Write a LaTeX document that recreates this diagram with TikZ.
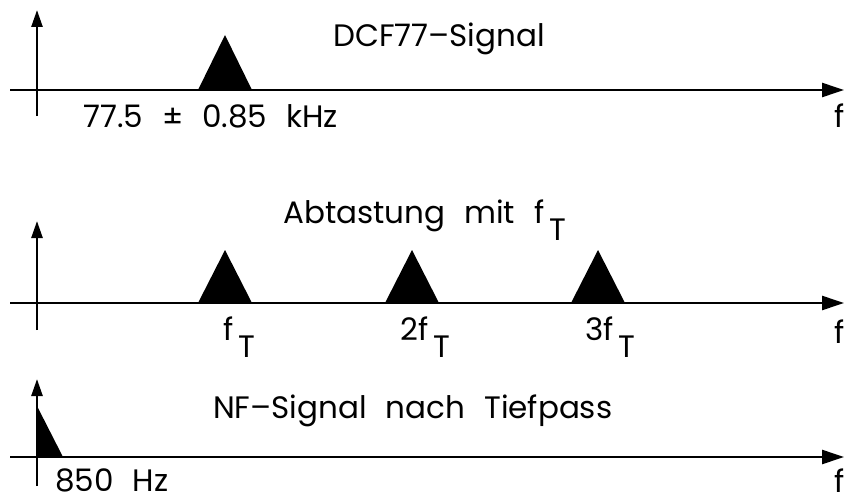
\documentclass[tikz,border=0pt]{standalone}
\usepackage{fontspec}
\setmainfont{Poppins}
\usetikzlibrary{arrows.meta}

\tikzset{
	faxis/.style={line width=2.5pt,-{Triangle[length=22pt,width=14pt]}},
	aaxis/.style={line width=2.5pt,-{Triangle[length=17pt,width=11pt]}},
	lbl/.style={inner sep=0pt,font=\fontsize{31}{37}\selectfont},
}
\newcommand{\fsubT}{f\,\raisebox{-17pt}{T}}
\newcommand{\wgap}{\hspace{19pt}}

\begin{document}
\begin{tikzpicture}[x=1pt,y=-1pt]
	\useasboundingbox (0,0) rectangle (853,503);

	% DCF77 signal
	\coordinate (a1s) at (37,116);
	\coordinate (a1e) at (37,10);
	\coordinate (f1s) at (10,90);
	\coordinate (f1e) at (844,90);
	\draw[aaxis] (a1s) -- (a1e);
	\draw[faxis] (f1s) -- (f1e);
	\fill (198,90) -- (225,35) -- (252,90) -- cycle;
	\node[lbl,anchor=base west] (sig) at (333,47) {DCF77--Signal};
	\node[lbl,anchor=base west] (band) at (83,127) {77.5\wgap\textpm\wgap0.85\wgap kHz};
	\node[lbl,anchor=base] (f1) at (840,127) {f};

	% sampling with f_T
	\coordinate (a2s) at (37,330);
	\coordinate (a2e) at (37,221);
	\coordinate (f2s) at (10,303);
	\coordinate (f2e) at (844,303);
	\draw[aaxis] (a2s) -- (a2e);
	\draw[faxis] (f2s) -- (f2e);
	\foreach \c in {225,412,598}
		\fill (\c-27,303) -- (\c,250) -- (\c+27,303) -- cycle;
	\node[lbl,anchor=base west] (samp) at (283,223) {Abtastung\wgap mit\wgap\fsubT};
	\node[lbl,anchor=base west] (t1) at (223,340) {\fsubT};
	\node[lbl,anchor=base west] (t2) at (400,340) {2\fsubT};
	\node[lbl,anchor=base west] (t3) at (585,340) {3\fsubT};
	\node[lbl,anchor=base] (f2) at (840,343) {f};

	% NF after low pass
	\coordinate (a3s) at (37,486);
	\coordinate (a3e) at (37,379);
	\coordinate (f3s) at (10,457);
	\coordinate (f3e) at (844,457);
	\draw[aaxis] (a3s) -- (a3e);
	\draw[faxis] (f3s) -- (f3e);
	\fill (37,406) -- (63,457) -- (37,457) -- cycle;
	\node[lbl,anchor=base west] (nf) at (213,418) {NF--Signal\wgap nach\wgap Tiefpass};
	\node[lbl,anchor=base west] (hz) at (55,491) {850\wgap Hz};
	\node[lbl,anchor=base] (f3) at (840,492) {f};
\end{tikzpicture}
\end{document}
